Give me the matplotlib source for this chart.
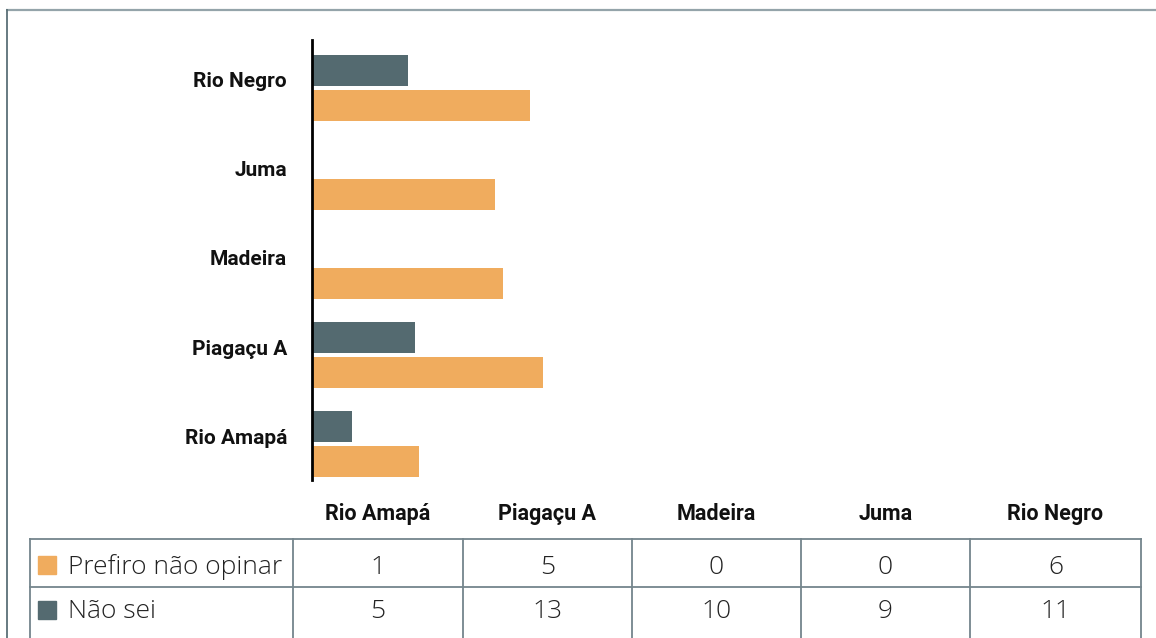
import matplotlib
matplotlib.use("Agg")
import matplotlib.pyplot as plt
from matplotlib.patches import Rectangle

# ---- data ----
categories = ["Rio Amapá", "Piagaçu A", "Madeira", "Juma", "Rio Negro"]
series_names = ["Prefiro não opinar", "Não sei"]
# bar lengths (percent scale)
bar_dark = [4.8, 12.4, 0.0, 0.0, 11.6]
bar_orange = [12.9, 27.9, 23.0, 22.1, 26.3]
# table values as printed
table_prefiro = [1, 5, 0, 0, 6]
table_naosei = [5, 13, 10, 9, 11]

ORANGE = "#F0AC5E"
DARK = "#546A70"
LINE = "#74858c"

W, H = 1156, 638
fig = plt.figure(figsize=(W / 100, H / 100), dpi=100)
fig.patch.set_facecolor("white")

# overlay in pixel coordinates for frame/table
ov = fig.add_axes([0, 0, 1, 1])
ov.set_xlim(0, W)
ov.set_ylim(H, 0)
ov.axis("off")

# bar axes
x0, x1, ytop, ybot = 312, 1141, 40, 480
ax = fig.add_axes([x0 / W, (H - ybot) / H, (x1 - x0) / W, (ybot - ytop) / H])
ax.set_xlim(0, 100)
ax.set_ylim(-0.404, 4.539)
pos = list(range(len(categories)))
h = 0.35
off = 0.197
ax.barh([p + off for p in pos], bar_dark, height=h, color=DARK, zorder=2)
ax.barh([p - off for p in pos], bar_orange, height=h, color=ORANGE, zorder=2)
ax.set_yticks([p + 0.09 for p in pos])
ax.set_yticklabels(categories, fontfamily="Roboto", fontweight="bold", fontsize=15, color="#111111")
ax.tick_params(axis="y", length=0, pad=18)
ax.set_xticks([])
for s in ["top", "right", "bottom"]:
    ax.spines[s].set_visible(False)
ax.spines["left"].set_linewidth(2.0)
ax.spines["left"].set_color("black")
ax.spines["left"].set_zorder(3)
ax.patch.set_alpha(0)

# outer frame
ov.plot([6, W + 5], [9.5, 9.5], color="#94a4aa", lw=1.6, solid_capstyle="butt")
ov.plot([6.5, 6.5], [9, H + 5], color="#5b7077", lw=1.3, solid_capstyle="butt")

# table
col_edges = [30, 293, 463, 632, 801, 970, 1141]
row_lines = [539, 587]
for y in row_lines:
    ov.plot([col_edges[0], col_edges[-1]], [y, y], color=LINE, lw=1.3)
for x in col_edges:
    ov.plot([x, x], [row_lines[0], H + 5], color=LINE, lw=1.3)

centers = [(col_edges[i + 1] + col_edges[i + 2]) / 2 for i in range(len(categories))]
for c, cat in zip(centers, categories):
    ov.text(c, 514, cat, ha="center", va="center", fontfamily="Roboto",
            fontweight="bold", fontsize=15.5, color="#111111")

row_y = [565, 610]
row_colors = [ORANGE, DARK]
row_vals = [table_prefiro, table_naosei]
for y, name, col, vals in zip(row_y, series_names, row_colors, row_vals):
    ov.add_patch(Rectangle((38, y - 9), 18, 18, color=col))
    ov.text(68, y + 2, name, ha="left", va="center", fontfamily="Open Sans",
            fontweight="light", fontsize=19, color="#222222")
    for c, v in zip(centers, vals):
        ov.text(c, y + 2, str(v), ha="center", va="center", fontfamily="Open Sans",
                fontweight="light", fontsize=19, color="#222222")

fig.savefig("out.png", dpi=100)
